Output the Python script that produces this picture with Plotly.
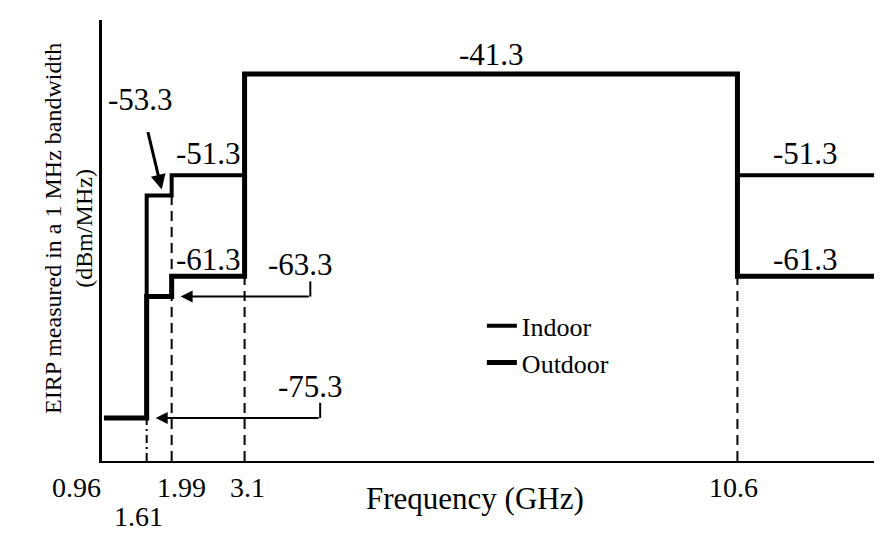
import plotly.graph_objects as go

# ── data: FCC UWB emission mask (step edges in GHz, levels in dBm/MHz) ──────
band_edges = [0.96, 1.61, 1.99, 3.1, 10.6, 12.8]
indoor_dbm = [-75.3, -53.3, -51.3, -41.3, -51.3, -51.3]
outdoor_dbm = [-75.3, -63.3, -61.3, -41.3, -61.3, -61.3]

marker_freqs = [1.61, 1.99, 3.1, 10.6]
marker_tops = [-75.3, -53.3, -61.3, -61.3]

tick_freqs = [0.96, 1.61, 1.99, 3.1, 10.6]
tick_text = ["0.96", "1.61", "1.99", "3.1", "10.6"]

X_RANGE = [0.93, 12.8]
Y_RANGE = [-79.55, -35.96]

SERIF = "Liberation Serif, Times New Roman, serif"
INK = "#000000"

fig = go.Figure()

fig.add_trace(go.Scatter(
    x=band_edges, y=outdoor_dbm, name="Outdoor", mode="lines",
    line=dict(color=INK, width=5, shape="hv"),
))
fig.add_trace(go.Scatter(
    x=band_edges, y=indoor_dbm, name="Indoor", mode="lines",
    line=dict(color=INK, width=4, shape="hv"),
))

# dashed guides from the axis up to the mask
for f, top in zip(marker_freqs, marker_tops):
    fig.add_shape(
        type="line", xref="x", yref="y", x0=f, x1=f, y0=Y_RANGE[0], y1=top,
        line=dict(color=INK, width=2,
                  dash="10px,6px" if f != 1.61 else "8px,4px,2px,4px"),
        layer="below",
    )

annotations = []

def label(text, x, y, size=31, **kw):
    annotations.append(dict(
        text=text, x=x, y=y, xref="x", yref="y", showarrow=False,
        font=dict(family=SERIF, size=size, color=INK), **kw,
    ))

# level labels
label("-41.3", (band_edges[3] + band_edges[4]) / 2, indoor_dbm[3], yanchor="bottom", yshift=0)
label("-51.3", (band_edges[2] + band_edges[3]) / 2, indoor_dbm[2], yanchor="bottom", yshift=2)
label("-61.3", (band_edges[2] + band_edges[3]) / 2, outdoor_dbm[2], yanchor="bottom", yshift=-3)
label("-51.3", 11.63, indoor_dbm[4], yanchor="bottom", yshift=2)
label("-61.3", 11.63, outdoor_dbm[4], yanchor="bottom", yshift=-3)

# -53.3 with a diagonal arrow onto the indoor step
annotations.append(dict(
    text="-53.3", x=1.86, y=indoor_dbm[1], xref="x", yref="y",
    showarrow=True, arrowhead=2, arrowsize=1, arrowwidth=3, arrowcolor=INK,
    ax=-23, ay=-96, standoff=6, startstandoff=14,
    font=dict(family=SERIF, size=31, color=INK),
))

# bracket-style call-outs for -63.3 and -75.3
for text, level, tip, tail in [("-63.3", outdoor_dbm[1], band_edges[2], 4.1),
                               ("-75.3", outdoor_dbm[0], band_edges[1], 4.25)]:
    annotations.append(dict(
        text="", x=tip, y=level, xref="x", yref="y", axref="x", ayref="y",
        ax=tail, ay=level, showarrow=True, arrowhead=2, arrowsize=1.2,
        arrowwidth=2, arrowcolor=INK, standoff=9,
    ))
    fig.add_shape(type="line", xref="x", yref="y", x0=tail, x1=tail,
                  y0=level, y1=level + 1.5, line=dict(color=INK, width=2))
    label(text, tail - 0.15, level + 1.5, yanchor="bottom", yshift=-3)

# frequency tick labels placed like the original sketch
tick_shift = {"0.96": (-27, 0), "1.61": (-8, -29), "1.99": (10, 0), "3.1": (3, 0), "10.6": (-4, 0)}
for f, t in zip(tick_freqs, tick_text):
    dx, dy = tick_shift[t]
    annotations.append(dict(
        text=t, x=f, y=0, xref="x", yref="paper", yanchor="top",
        xshift=dx, yshift=-9 + dy, showarrow=False,
        font=dict(family=SERIF, size=28, color=INK),
    ))

annotations.append(dict(
    text="Frequency (GHz)", x=0.478, y=0, xref="paper", yref="paper",
    yanchor="top", yshift=-18, showarrow=False,
    font=dict(family=SERIF, size=31, color=INK),
))
annotations.append(dict(
    text="EIRP measured in a 1 MHz bandwidth<br>(dBm/MHz)",
    x=-0.083, y=0.528, xref="paper", yref="paper", textangle=-90,
    showarrow=False, font=dict(family=SERIF, size=24, color=INK),
))

# the page body adds an 8 px offset, so the figure is 8 px smaller
fig.update_layout(
    width=874, height=525,
    margin=dict(l=94, r=0, t=12, b=72),
    paper_bgcolor="white", plot_bgcolor="white",
    font=dict(family=SERIF, color=INK),
    annotations=annotations,
    legend=dict(
        x=0.487, y=0.36, xanchor="left", yanchor="top",
        traceorder="reversed", bgcolor="rgba(0,0,0,0)",
        font=dict(family=SERIF, size=26, color=INK),
        itemwidth=30, tracegroupgap=0,
    ),
    xaxis=dict(
        range=X_RANGE, showgrid=False, zeroline=False, showticklabels=False,
        showline=True, linecolor=INK, linewidth=2, ticks="",
    ),
    yaxis=dict(
        range=Y_RANGE, showgrid=False, zeroline=False, showticklabels=False,
        showline=True, linecolor=INK, linewidth=3, ticks="",
    ),
)

fig.write_html("out.html")
